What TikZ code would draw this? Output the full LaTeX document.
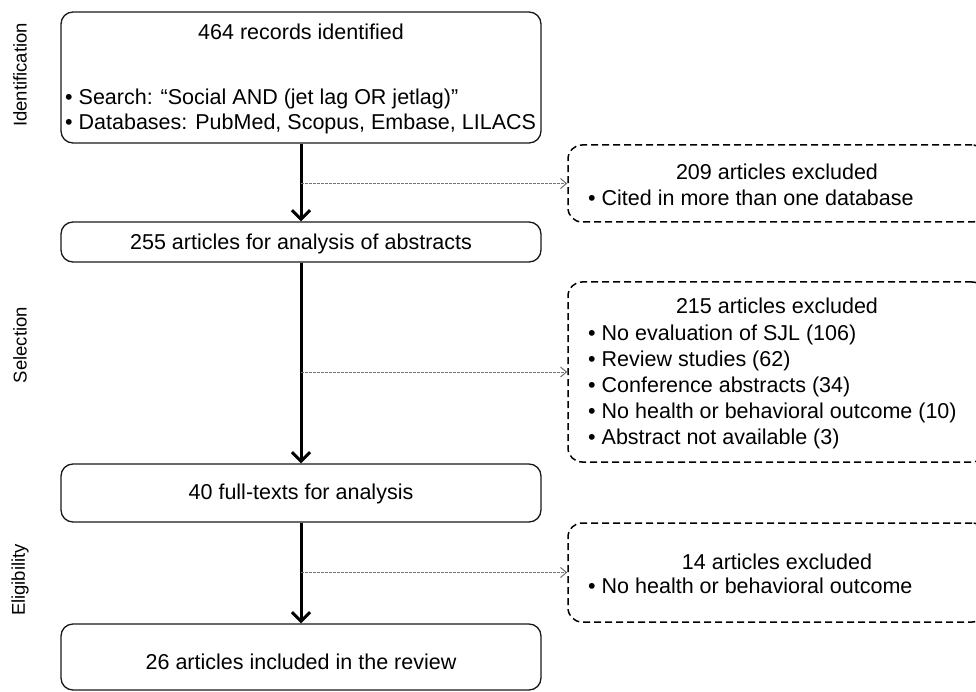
\documentclass[tikz,border=0pt]{standalone}
\usepackage{fontspec}
\setmainfont{Liberation Sans}
\usetikzlibrary{arrows.meta}
\begin{document}
\begin{tikzpicture}[x=1pt,y=-1pt,
  mainbox/.style={draw=black!90, line width=1.3pt, rounded corners=12pt, minimum width=480pt, inner sep=0pt},
  exbox/.style={draw=black, line width=1.5pt, dash pattern=on 7pt off 4pt, rounded corners=14pt, minimum width=418pt, inner sep=0pt},
  txt/.style={font=\fontsize{21.5}{26}\selectfont, inner sep=0pt, text height=15.5pt, text depth=0pt},
  lbl/.style={font=\fontsize{18.5}{23}\selectfont, rotate=90, inner sep=0pt},
  flow/.style={line width=3pt, -{Straight Barb[length=9pt,width=18pt,line width=3pt]}},
  side/.style={draw=black!55, line width=1pt, dash pattern=on 2.5pt off 1.5pt, -{Straight Barb[length=6pt,width=10pt,line width=1pt]}}]
\clip (0,0) rectangle (976,692);
% main boxes
\node[mainbox, minimum height=131pt] (b1) at (301,77.5) {};
\node[mainbox, minimum height=40pt] (b2) at (301,242) {};
\node[mainbox, minimum height=58pt] (b3) at (301,493) {};
\node[mainbox, minimum height=66pt] (b4) at (301,657) {};
% exclusion boxes
\node[exbox, minimum height=77pt] (d1) at (777,183.5) {};
\node[exbox, minimum height=180pt] (d2) at (777,372) {};
\node[exbox, minimum height=99pt] (d3) at (777,572.5) {};
% texts in main boxes
\node[txt] (t1) at (301,32) {464 records identified};
\node[txt, anchor=west] (t1a) at (65,97) {• Search: “Social AND (jet lag OR jetlag)”};
\node[txt, anchor=west] (t1b) at (65,122) {• Databases: PubMed, Scopus, Embase, LILACS};
\node[txt] (t2) at (301,242) {255 articles for analysis of abstracts};
\node[txt] (t3) at (301,492) {40 full-texts for analysis};
\node[txt] (t4) at (301,662) {26 articles included in the review};
% texts in exclusion boxes
\node[txt] (h1) at (777,172) {209 articles excluded};
\node[txt, anchor=west] (h1a) at (588,198) {• Cited in more than one database};
\node[txt] (h2) at (777,306) {215 articles excluded};
\node[txt, anchor=west] (h2a) at (588,333) {• No evaluation of SJL (106)};
\node[txt, anchor=west] (h2b) at (588,359) {• Review studies (62)};
\node[txt, anchor=west] (h2c) at (588,385) {• Conference abstracts (34)};
\node[txt, anchor=west] (h2d) at (588,411) {• No health or behavioral outcome (10)};
\node[txt, anchor=west] (h2e) at (588,437) {• Abstract not available (3)};
\node[txt] (h3) at (777,562) {14 articles excluded};
\node[txt, anchor=west] (h3a) at (588,586) {• No health or behavioral outcome};
% side labels
\node[lbl] (l1) at (20,75) {Identification};
\node[lbl] (l2) at (20,345) {Selection};
\node[lbl] (l3) at (20,580) {Eligibility};
% connectors
\draw[flow] (b1) -- (b2);
\draw[flow] (b2) -- (b3);
\draw[flow] (b3) -- (b4);
\draw[side] (b1.south |- d1.west) -- (d1.west);
\draw[side] (b2.south |- d2.west) -- (d2.west);
\draw[side] (b3.south |- d3.west) -- (d3.west);
\end{tikzpicture}
\end{document}
